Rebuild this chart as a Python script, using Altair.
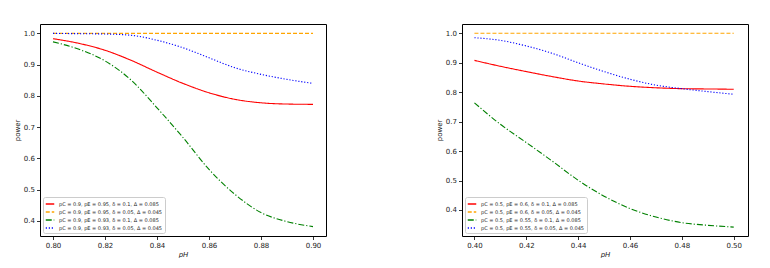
import altair as alt
import pandas as pd

# ---------- left panel data ----------
x_left = [0.80, 0.81, 0.82, 0.83, 0.84, 0.85, 0.86, 0.87, 0.88, 0.89, 0.90]
red_left = [0.983, 0.968, 0.946, 0.914, 0.876, 0.840, 0.810, 0.789, 0.778, 0.774, 0.773]
orange_left = [1.0] * 11
green_left = [0.973, 0.949, 0.912, 0.851, 0.762, 0.667, 0.565, 0.485, 0.427, 0.398, 0.382]
blue_left = [1.0, 0.999, 0.998, 0.994, 0.978, 0.954, 0.922, 0.890, 0.869, 0.853, 0.840]
labels_left = [
    "pC = 0.9, pE = 0.95, δ = 0.1, Δ = 0.085",
    "pC = 0.9, pE = 0.95, δ = 0.05, Δ = 0.045",
    "pC = 0.9, pE = 0.93, δ = 0.1, Δ = 0.085",
    "pC = 0.9, pE = 0.93, δ = 0.05, Δ = 0.045",
]
xticks_left = [0.80, 0.82, 0.84, 0.86, 0.88, 0.90]

# ---------- right panel data ----------
x_right = [0.40, 0.41, 0.42, 0.43, 0.44, 0.45, 0.46, 0.47, 0.48, 0.49, 0.50]
red_right = [0.908, 0.888, 0.870, 0.853, 0.838, 0.828, 0.820, 0.815, 0.812, 0.811, 0.810]
orange_right = [1.0] * 11
green_right = [0.764, 0.691, 0.629, 0.566, 0.501, 0.447, 0.405, 0.376, 0.357, 0.348, 0.342]
blue_right = [0.985, 0.976, 0.957, 0.932, 0.900, 0.870, 0.844, 0.824, 0.812, 0.802, 0.793]
labels_right = [
    "pC = 0.5, pE = 0.6, δ = 0.1, Δ = 0.085",
    "pC = 0.5, pE = 0.6, δ = 0.05, Δ = 0.045",
    "pC = 0.5, pE = 0.55, δ = 0.1, Δ = 0.085",
    "pC = 0.5, pE = 0.55, δ = 0.05, Δ = 0.045",
]
xticks_right = [0.40, 0.42, 0.44, 0.46, 0.48, 0.50]

yticks = [0.4, 0.5, 0.6, 0.7, 0.8, 0.9, 1.0]
colors = ["#ff0000", "#ffa500", "#008000", "#0000ff"]
dashes = [[1, 0], [4, 2], [6, 2, 1.2, 2], [1.2, 1.8]]


def panel(x, series, labels, xdom, ydom, xticks):
    rows = []
    for lab, vals in zip(labels, series):
        for xv, yv in zip(x, vals):
            rows.append({"x": xv, "y": yv, "s": lab})
    df = pd.DataFrame(rows)
    leg = alt.Legend(title=None)
    return alt.Chart(df).mark_line(strokeWidth=1.1, interpolate="monotone", clip=True).encode(
        x=alt.X("x:Q", scale=alt.Scale(domain=xdom, nice=False, zero=False),
                axis=alt.Axis(values=xticks, format=".2f", title="pH", titleFontStyle="italic")),
        y=alt.Y("y:Q", scale=alt.Scale(domain=ydom, nice=False, zero=False),
                axis=alt.Axis(values=yticks, format=".1f", title="power")),
        color=alt.Color("s:N", scale=alt.Scale(domain=labels, range=colors), legend=leg),
        strokeDash=alt.StrokeDash("s:N", scale=alt.Scale(domain=labels, range=dashes), legend=leg),
    ).properties(width=286, height=212)


left = panel(x_left, [red_left, orange_left, green_left, blue_left], labels_left,
             [0.795, 0.905], [0.352, 1.030], xticks_left)
right = panel(x_right, [red_right, orange_right, green_right, blue_right], labels_right,
              [0.3952, 0.5055], [0.3117, 1.0316], xticks_right)

chart = alt.hconcat(left, right, spacing=107).resolve_scale(
    color="independent", strokeDash="independent"
).resolve_legend(color="independent", strokeDash="independent").properties(
    padding={"left": 4, "top": 15, "right": 0, "bottom": 0}
).configure_view(
    stroke="black", strokeWidth=1
).configure_axis(
    domain=False, grid=False, tickColor="black", tickSize=3.5, tickWidth=0.8,
    labelFont="DejaVu Sans", labelFontSize=7, labelColor="#222222", labelPadding=2,
    titleFont="DejaVu Sans", titleFontSize=7, titleFontWeight="normal", titleColor="#222222",
).configure_axisY(
    minExtent=20, maxExtent=20, titlePadding=0
).configure_axisX(
    titlePadding=2
).configure_legend(
    orient="bottom-left", offset=3, padding=2, fillColor="white", strokeColor="#cccccc",
    cornerRadius=2, labelFont="DejaVu Sans", labelFontSize=5, labelColor="#222222",
    symbolType="stroke", symbolSize=72, symbolStrokeWidth=1.5, rowPadding=0, labelLimit=300,
    labelOffset=4,
)

chart.save("out.html", embed_options={"renderer": "svg", "actions": False})
